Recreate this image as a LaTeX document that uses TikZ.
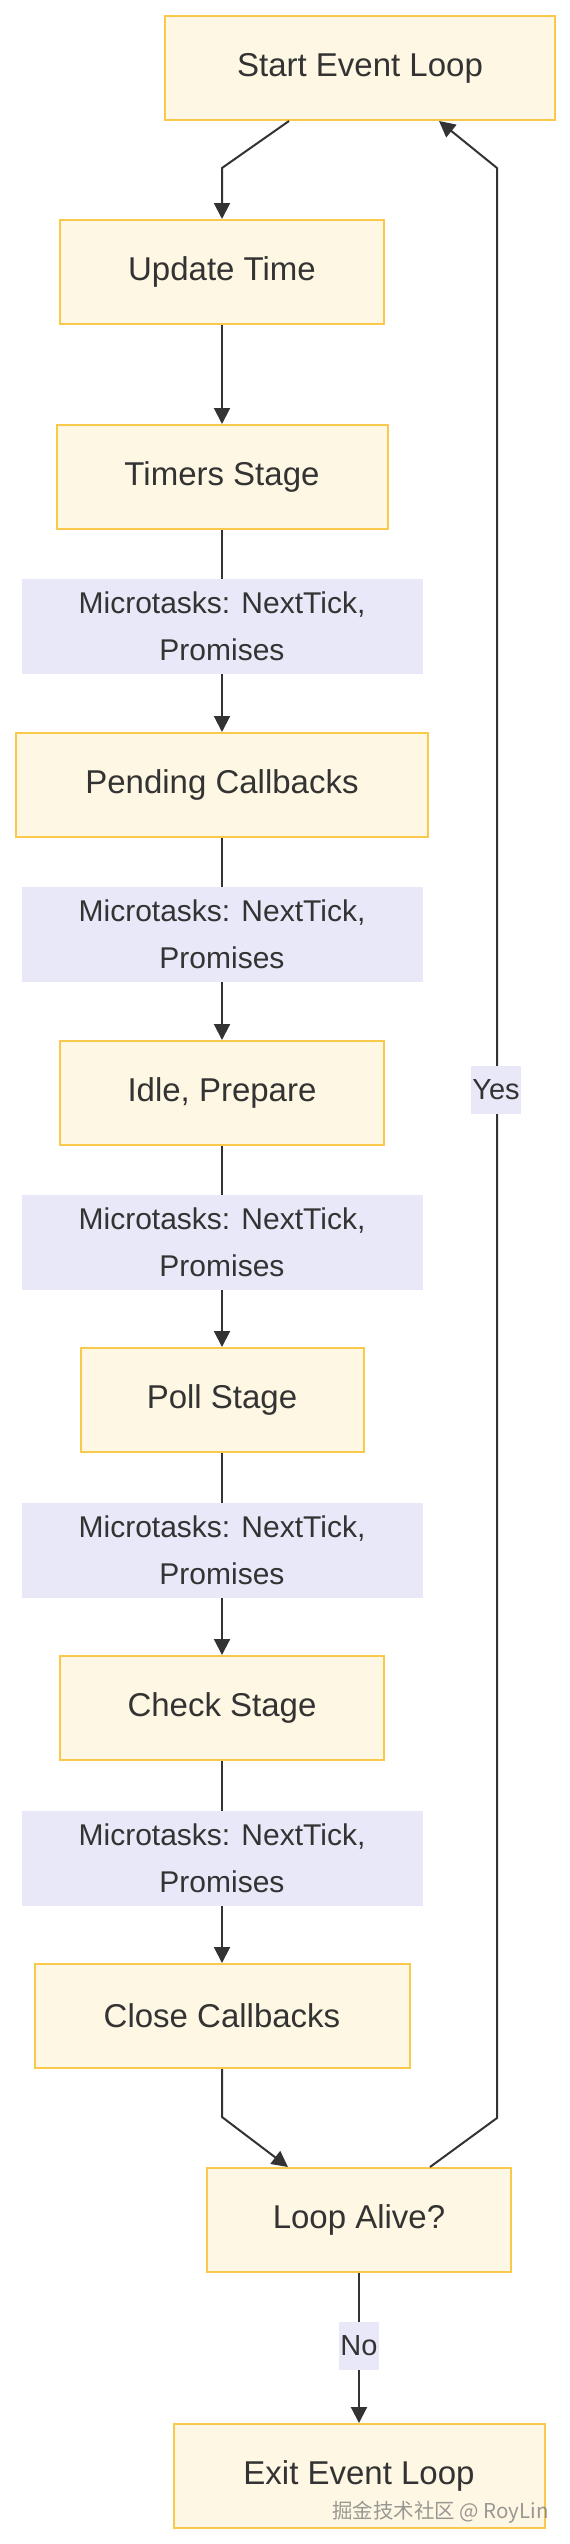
\documentclass[tikz,border=0pt]{standalone}
\usepackage{fontspec}
\setmainfont{Liberation Sans}
\newfontfamily\cjkfont{Noto Sans CJK SC}
\usetikzlibrary{arrows.meta}
\definecolor{boxfill}{HTML}{FEF7E3}
\definecolor{boxline}{HTML}{F8C94A}
\definecolor{labfill}{HTML}{E8E8F8}
\definecolor{ink}{HTML}{333333}
\begin{document}
\begin{tikzpicture}[x=1pt,y=-1pt,
  stagebox/.style={draw=boxline, fill=boxfill, line width=2pt, inner sep=0pt, text=ink,
    font=\fontsize{33}{40}\selectfont, minimum height=104pt},
  microlab/.style={fill=labfill, inner sep=0pt, text=ink, minimum width=401pt,
    minimum height=95pt, align=center, font=\fontsize{30}{47}\selectfont},
  edgelab/.style={fill=labfill, inner sep=1.5pt, text=ink,
    font=\fontsize{29}{34}\selectfont, minimum height=48pt},
  flow/.style={draw=ink, line width=2pt},
  tip/.style={-{Triangle[length=16pt,width=16pt]}},
]
\useasboundingbox (0,0) rectangle (570,2544);

\node[stagebox, minimum width=390pt] (start) at (360,68) {Start Event Loop};
\node[stagebox, minimum width=324pt] (update) at (222,272) {Update Time};
\node[stagebox, minimum width=331pt] (timers) at (222,477) {Timers Stage};
\node[microlab] (m1) at (222,626.5) {Microtasks: NextTick,\\Promises};
\node[stagebox, minimum width=412pt] (pending) at (222,785) {Pending Callbacks};
\node[microlab] (m2) at (222,934.5) {Microtasks: NextTick,\\Promises};
\node[stagebox, minimum width=324pt] (idle) at (222,1093) {Idle, Prepare};
\node[microlab] (m3) at (222,1242.5) {Microtasks: NextTick,\\Promises};
\node[stagebox, minimum width=283pt] (poll) at (222,1400) {Poll Stage};
\node[microlab] (m4) at (222,1550.5) {Microtasks: NextTick,\\Promises};
\node[stagebox, minimum width=324pt] (check) at (222,1708) {Check Stage};
\node[microlab] (m5) at (222,1858.5) {Microtasks: NextTick,\\Promises};
\node[stagebox, minimum width=375pt] (close) at (222,2016) {Close Callbacks};
\node[stagebox, minimum width=304pt] (alive) at (359,2220) {Loop Alive?};
\node[stagebox, minimum width=371pt] (exit) at (359,2476) {Exit Event Loop};

\node[edgelab] (yes) at (496,1090) {Yes};
\node[edgelab] (no) at (359,2346) {No};

\coordinate (b1) at (222,168);
\coordinate (b2) at (222,2117);
\coordinate (b3) at (497,2118);
\coordinate (b4) at (497,168);

\draw[flow,tip] ([xshift=-71pt]start.south) -- (b1) -- (update.north);
\draw[flow,tip] (update) -- (timers);
\draw[flow] (timers) -- (m1);
\draw[flow,tip] (m1) -- (pending);
\draw[flow] (pending) -- (m2);
\draw[flow,tip] (m2) -- (idle);
\draw[flow] (idle) -- (m3);
\draw[flow,tip] (m3) -- (poll);
\draw[flow] (poll) -- (m4);
\draw[flow,tip] (m4) -- (check);
\draw[flow] (check) -- (m5);
\draw[flow,tip] (m5) -- (close);
\draw[flow,tip] (close.south) -- (b2) -- ([xshift=-71pt]alive.north);
\draw[flow] ([xshift=71pt]alive.north) -- (b3) -- (yes.south -| b3);
\draw[flow,tip] (yes.north -| b4) -- (b4) -- ([xshift=79pt]start.south);
\draw[flow] (alive) -- (no);
\draw[flow,tip] (no) -- (exit);

\node[text=gray, opacity=0.8, font=\cjkfont\fontsize{20.5}{21}\selectfont, anchor=east, inner sep=0pt]
  (wm) at (549,2512) {掘金技术社区 @ RoyLin};
\end{tikzpicture}
\end{document}
